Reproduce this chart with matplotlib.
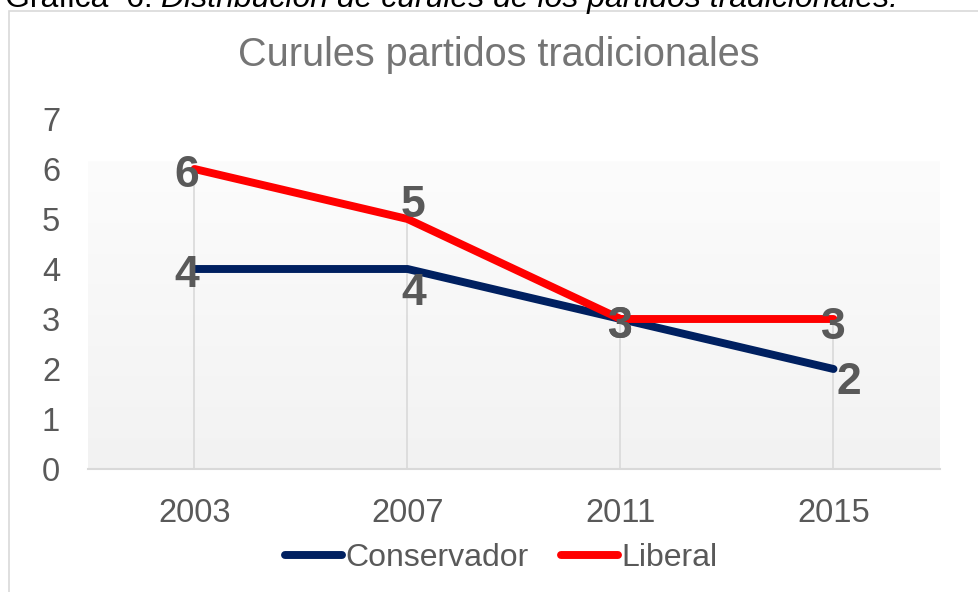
import matplotlib
matplotlib.use("Agg")
import matplotlib.pyplot as plt
import numpy as np
from matplotlib.patches import Rectangle

plt.rcParams["font.family"] = ["Liberation Sans", "DejaVu Sans"]

years = ["2003", "2007", "2011", "2015"]
conservador = [4, 4, 3, 2]
liberal = [6, 5, 3, 3]

# label offsets in pixels (dx, dy up)
off_cons = [(-8, -2), (6, -20), (0, -3), (15, -9)]
off_lib = [(-8, -2), (6, 18), (0, -3), (0, -4)]

NAVY = "#002060"
RED = "#FF0000"
TXT = "#595959"
GRID = "#d9d9d9"

W, H = 979, 592
fig = plt.figure(figsize=(W / 100, H / 100), dpi=100)

# chart frame
fig.patches.append(Rectangle((9 / W, -0.1), 1.2, 1 - 11 / H + 0.1, transform=fig.transFigure,
                             fill=False, edgecolor=GRID, lw=1.2))

ax = fig.add_axes([88 / W, 1 - 469 / H, 852 / W, (469 - 119) / H])
x = np.arange(len(years)) + 0.5
ax.set_xlim(0, len(years))
ax.set_ylim(0, 7)

# plot area gradient
grad = np.linspace(0, 1, 256).reshape(-1, 1)
top = np.array([0xfc, 0xfc, 0xfc]) / 255
bot = np.array([0xf2, 0xf2, 0xf2]) / 255
img = top + (bot - top) * grad[..., None]
ax.imshow(img, extent=[0, len(years), 0, 6.15], aspect="auto", zorder=0)

# drop lines
for xi, a, b in zip(x, conservador, liberal):
    ax.plot([xi, xi], [0, max(a, b)], color=GRID, lw=1.2, zorder=1)

ax.plot(x, conservador, color=NAVY, lw=5.7, solid_capstyle="round", solid_joinstyle="round",
        label="Conservador", zorder=3)
ax.plot(x, liberal, color=RED, lw=5.7, solid_capstyle="round", solid_joinstyle="round",
        label="Liberal", zorder=4)

for xi, v, (dx, dy) in zip(x, conservador, off_cons):
    ax.annotate(str(v), (xi, v), xytext=(dx * 0.72, dy * 0.72), textcoords="offset points",
                ha="center", va="center_baseline", fontsize=32, fontweight="bold", color=TXT, zorder=5)
for xi, v, (dx, dy) in zip(x, liberal, off_lib):
    ax.annotate(str(v), (xi, v), xytext=(dx * 0.72, dy * 0.72), textcoords="offset points",
                ha="center", va="center_baseline", fontsize=32, fontweight="bold", color=TXT, zorder=5)

ax.set_xticks(x)
ax.set_xticklabels(years)
ax.set_yticks(range(0, 8))
ax.tick_params(axis="both", length=0, labelsize=23.5, labelcolor=TXT)
ax.tick_params(axis="y", pad=20)
ax.tick_params(axis="x", pad=21)
for s in ["top", "right", "left"]:
    ax.spines[s].set_visible(False)
ax.spines["bottom"].set_color(GRID)
ax.spines["bottom"].set_linewidth(1.5)

fig.text(499 / W, 1 - 55 / H, "Curules partidos tradicionales", ha="center", va="center",
         fontsize=28.5, color="#757575")

ax.legend(loc="center", bbox_to_anchor=(501 / W, 1 - 558 / H), bbox_transform=fig.transFigure,
          ncol=2, frameon=False, fontsize=23, labelcolor=TXT, handlelength=1.8,
          handletextpad=0.1, columnspacing=1.0)

# caption, partly cut off at the top
r = fig.canvas.get_renderer()
t1 = fig.text(5 / W, 1 - 7 / H, "Gráfica  6. ", ha="left", va="baseline", fontsize=23, color="black")
bb = t1.get_window_extent(r)
fig.text(bb.x1 / W, 1 - 7 / H, "Distribución de curules de los partidos tradicionales.",
         ha="left", va="baseline", fontsize=23, style="italic", color="black")

plt.savefig("out.png", dpi=100)
plt.close()
